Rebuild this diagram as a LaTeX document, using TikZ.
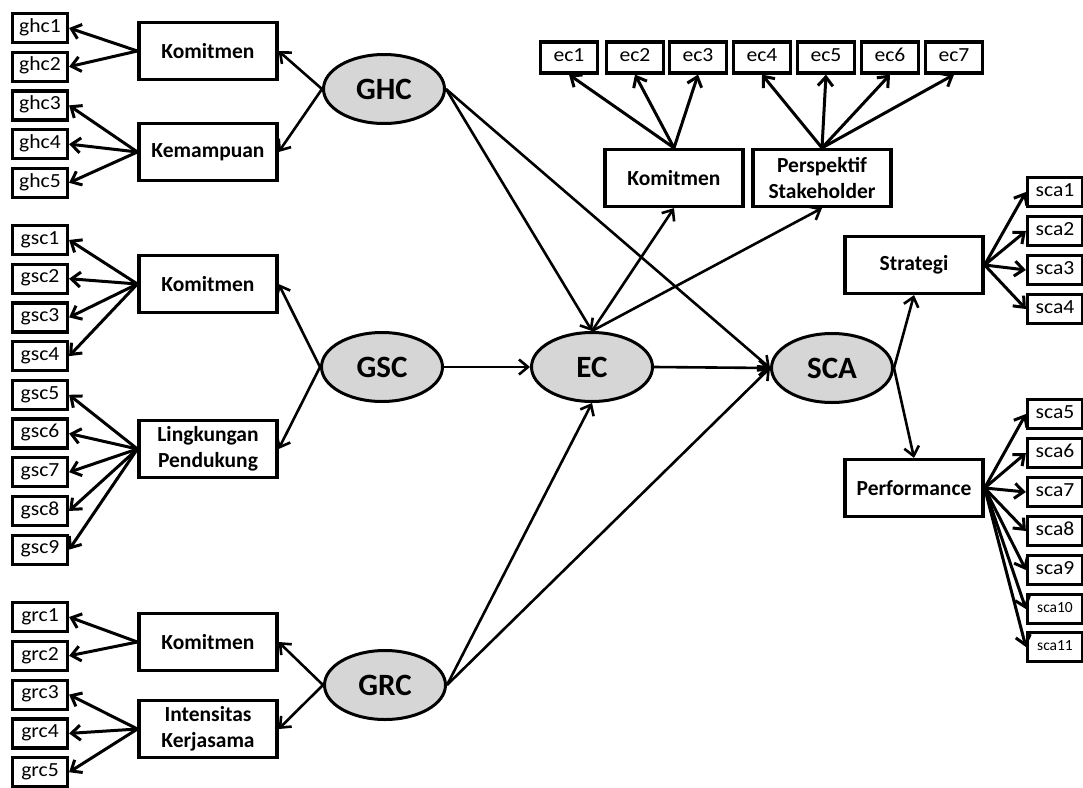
\documentclass[tikz,border=0pt]{standalone}
\usepackage{fontspec}
\setmainfont{Carlito}
\newfontfamily\indfont[FakeStretch=1.08]{Carlito}
\usetikzlibrary{arrows.meta,shapes.geometric}

\begin{document}
\begin{tikzpicture}[x=1pt,y=-1pt,
  ind/.style={draw, line width=3.2pt, minimum width=55pt, minimum height=29pt,
    inner sep=0pt, text height=12.5pt, text depth=4pt,
    font=\indfont\fontsize{20}{20}\selectfont},
  indsm/.style={ind, text height=10pt, text depth=3pt, font=\fontsize{15.5}{16}\selectfont},
  dimbox/.style={draw, line width=3.2pt, minimum width=138pt, minimum height=57pt,
    inner sep=0pt, align=center, font=\bfseries\fontsize{21.5}{26}\selectfont},
  latent/.style={ellipse, draw, line width=3pt, fill=gray!32, minimum width=121pt,
    minimum height=69pt, inner sep=0pt, font=\bfseries\fontsize{31}{31}\selectfont},
  fan/.style={line width=3pt, -{Straight Barb[length=9pt,width=15pt]}},
  path/.style={line width=2.6pt, -{Straight Barb[length=9pt,width=15pt]}}
]
\useasboundingbox (0,0) rectangle (1083,787);

% ---------- latent constructs ----------
\node[latent] (ghc) at (384,89) {GHC};
\node[latent] (gsc) at (382,367) {GSC};
\node[latent] (grc) at (385,685) {GRC};
\node[latent] (ec)  at (592,367) {EC};
\node[latent] (sca) at (832,368) {SCA};

% ---------- dimensions ----------
\node[dimbox] (ghcK) at (208,51)  {Komitmen};
\node[dimbox] (ghcM) at (208,152) {Kemampuan};
\node[dimbox] (gscK) at (208,284) {Komitmen};
\node[dimbox] (gscL) at (208,449) {Lingkungan\\Pendukung};
\node[dimbox] (grcK) at (208,642) {Komitmen};
\node[dimbox] (grcI) at (208,729) {Intensitas\\Kerjasama};
\node[dimbox] (ecK)  at (674,178) {Komitmen};
\node[dimbox] (ecP)  at (822,178) {Perspektif\\Stakeholder};
\node[dimbox] (scaS) at (914,265) {Strategi};
\node[dimbox] (scaP) at (914,488) {Performance};

% ---------- indicators: GHC ----------
\foreach \i in {1,...,5}
  \node[ind] (ghc\i) at (40,{28+38.7*(\i-1)}) {ghc\i};
% ---------- indicators: GSC ----------
\foreach \i in {1,...,9}
  \node[ind] (gsc\i) at (40,{240+38.7*(\i-1)}) {gsc\i};
% ---------- indicators: GRC ----------
\foreach \i in {1,...,5}
  \node[ind] (grc\i) at (40,{617+38.8*(\i-1)}) {grc\i};
% ---------- indicators: EC ----------
\foreach \i/\x in {1/569,2/635,3/698,4/762,5/826,6/890,7/954}
  \node[ind, minimum width=57pt, minimum height=31pt] (ec\i) at (\x,57.5) {ec\i};
% ---------- indicators: SCA ----------
\foreach \i in {1,...,4}
  \node[ind] (sca\i) at (1055,{192+39*(\i-1)}) {sca\i};
\foreach \i in {5,...,9}
  \node[ind] (sca\i) at (1055,{414+39*(\i-5)}) {sca\i};
\node[indsm] (sca10) at (1055,609) {sca10};
\node[indsm] (sca11) at (1055,647) {sca11};

% ---------- loadings ----------
\foreach \i in {1,2}   \draw[fan] (ghcK.west) -- (ghc\i.east);
\foreach \i in {3,4,5} \draw[fan] (ghcM.west) -- (ghc\i.east);
\foreach \i in {1,...,4} \draw[fan] (gscK.west) -- (gsc\i.east);
\foreach \i in {5,...,9} \draw[fan] (gscL.west) -- (gsc\i.east);
\foreach \i in {1,2}   \draw[fan] (grcK.west) -- (grc\i.east);
\foreach \i in {3,4,5} \draw[fan] (grcI.west) -- (grc\i.east);
\foreach \i in {1,2,3} \draw[fan] (ecK.north) -- (ec\i.south);
\foreach \i in {4,...,7} \draw[fan] (ecP.north) -- (ec\i.south);
\foreach \i in {1,...,4} \draw[fan] (scaS.east) -- (sca\i.west);
\foreach \i in {5,...,11} \draw[fan] (scaP.east) -- (sca\i.west);

% ---------- construct to dimension ----------
\draw[path] (ghc.west) -- (ghcK.east);
\draw[path] (ghc.west) -- (ghcM.east);
\draw[path] (gsc.west) -- (gscK.east);
\draw[path] (gsc.west) -- (gscL.east);
\draw[path] (grc.west) -- (grcK.east);
\draw[path] (grc.west) -- (grcI.east);
\draw[path] (ec.north) -- (ecK.south);
\draw[path] (ec.north) -- (ecP.south);
\draw[path] (sca.east) -- (scaS.south);
\draw[path] (sca.east) -- (scaP.north);

% ---------- structural paths ----------
\draw[path] (ghc.east) -- (ec.north);
\draw[path] (ghc.east) -- (sca.west);
\draw[path] (gsc.east) -- (ec.west);
\draw[path] (grc.east) -- (ec.south);
\draw[path] (grc.east) -- (sca.west);
\draw[path] (ec.east) -- (sca.west);
\end{tikzpicture}
\end{document}
